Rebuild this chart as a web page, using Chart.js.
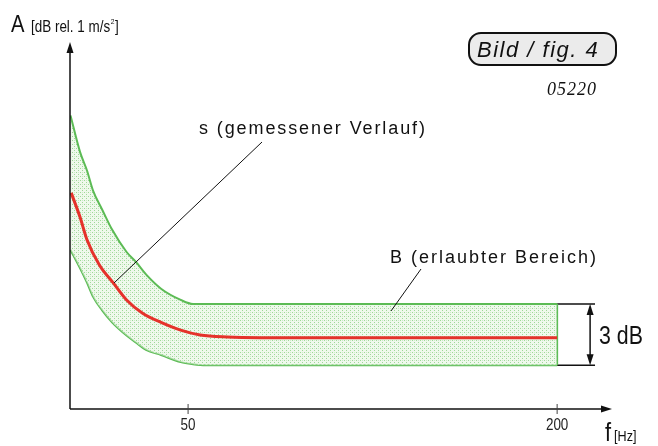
<!DOCTYPE html>
<html>
<head>
<meta charset="utf-8">
<script src="https://cdn.jsdelivr.net/npm/chart.js@4.4.1/dist/chart.umd.min.js"></script>
<style>
  html, body { margin: 0; padding: 0; background: #fff; }
  #wrap { width: 658px; height: 446px; }
</style>
</head>
<body>
<div id="wrap"><canvas id="bandChart" width="658" height="446"></canvas></div>
<script>
// frequency points (Hz) for the allowed band edges
const bandFreq = [2.2, 6.1, 8.9, 11.4, 15, 19.1, 25, 28.9, 32.9, 39, 47, 52, 57, 61, 67, 200];
const bandUpper = [14.4, 12.6, 11.7, 10.7, 9.8, 8.8, 7.7, 7.2, 6.6, 5.9, 5.35, 5.15, 5.15, 5.15, 5.15, 5.15];
const bandLower = [7.8, 6.9, 6.2, 5.5, 4.85, 4.25, 3.6, 3.25, 2.9, 2.65, 2.3, 2.2, 2.15, 2.15, 2.15, 2.15];
// measured curve s
const measFreq = [2.5, 6.1, 8.9, 14, 19.5, 25, 31.5, 39, 47, 54.9, 65.9, 79.3, 200];
const measured = [10.6, 9.4, 8.3, 7.05, 6.2, 5.35, 4.7, 4.25, 3.87, 3.63, 3.53, 3.5, 3.5];
const xTicks = [50, 200];
const dimEnd = 215.4;     // end of 3 dB bracket lines
const dimArrowX = 213.4;

const GREEN = "#5cbb55";
const RED = "#e5322b";

// dotted light green fill
function makePattern() {
  const c = document.createElement("canvas");
  c.width = 4; c.height = 4;
  const g = c.getContext("2d");
  g.fillStyle = "rgba(225,244,221,0.55)";
  g.fillRect(0, 0, 4, 4);
  g.fillStyle = "#9fd898";
  g.fillRect(0, 0, 1, 1);
  g.fillRect(2, 2, 1, 1);
  g.fillStyle = "#cdebc8";
  g.fillRect(2, 0, 1, 1);
  return g.createPattern(c, "repeat");
}

const pts = (xs, ys) => xs.map((v, i) => ({ x: v, y: ys[i] }));
const lastUp = bandUpper[bandUpper.length - 1];
const lastLo = bandLower[bandLower.length - 1];
const bandEnd = bandFreq[bandFreq.length - 1];

// draws condensed text, returns end x
function narrow(ctx, text, px, py, size, align, sx) {
  sx = sx || 0.84;
  ctx.save();
  ctx.font = size + 'px "Liberation Sans", Arial, sans-serif';
  const w = ctx.measureText(text).width * sx;
  ctx.translate(px, py);
  ctx.scale(sx, 1);
  ctx.textAlign = align || "left";
  ctx.textBaseline = "alphabetic";
  ctx.fillText(text, 0, 0);
  ctx.restore();
  return px + w;
}

function line(ctx, x1, y1, x2, y2, w) {
  ctx.beginPath();
  ctx.lineWidth = w || 1;
  ctx.moveTo(x1, y1);
  ctx.lineTo(x2, y2);
  ctx.stroke();
}

function tri(ctx, a, b, c) {
  ctx.beginPath();
  ctx.moveTo(a[0], a[1]);
  ctx.lineTo(b[0], b[1]);
  ctx.lineTo(c[0], c[1]);
  ctx.closePath();
  ctx.fill();
}

const decor = {
  id: "decor",
  afterDraw(chart) {
    const { ctx, chartArea: ca, scales: { x, y } } = chart;
    ctx.save();
    ctx.strokeStyle = "#111";
    ctx.fillStyle = "#111";
    const x0 = ca.left;
    const y0 = y.getPixelForValue(0);

    // axes with arrows
    line(ctx, x0, y0, x0, ca.top + 8, 1.5);
    tri(ctx, [x0, ca.top], [x0 - 3.5, ca.top + 11], [x0 + 3.5, ca.top + 11]);
    line(ctx, x0, y0, ca.right - 8, y0, 1.5);
    tri(ctx, [ca.right, y0], [ca.right - 11, y0 - 3.5], [ca.right - 11, y0 + 3.5]);

    // ticks + labels
    ctx.fillStyle = "#222";
    xTicks.forEach(t => {
      const px = x.getPixelForValue(t);
      ctx.strokeStyle = "#444";
      line(ctx, px, y0 - 5, px, y0 + 5, 1);
      narrow(ctx, String(t), px, y0 + 21, 16, "center");
    });

    // axis titles
    ctx.fillStyle = "#111";
    narrow(ctx, "A", 11, 32, 24, "left");
    let ex = narrow(ctx, "[dB rel. 1 m/s", 31, 32, 16, "left");
    ex = narrow(ctx, "2", ex + 0.5, 24, 8, "left");
    narrow(ctx, "]", ex + 0.5, 32, 16, "left");
    ex = narrow(ctx, "f", 605, 441, 26, "left");
    narrow(ctx, "[Hz]", ex + 3, 441, 15, "left");

    // figure label box
    ctx.beginPath();
    ctx.lineWidth = 2;
    ctx.strokeStyle = "#111";
    ctx.fillStyle = "#ebebeb";
    ctx.roundRect(469, 33, 147, 32, 12);
    ctx.fill();
    ctx.stroke();
    ctx.fillStyle = "#111";
    ctx.font = 'italic 22px "Liberation Sans", Arial, sans-serif';
    ctx.letterSpacing = "1.5px";
    ctx.textAlign = "left";
    ctx.fillText("Bild / fig. 4", 477, 57);
    ctx.font = 'italic 18px "Liberation Serif", "Times New Roman", serif';
    ctx.letterSpacing = "1px";
    ctx.fillText("05220", 547, 95);

    // callout texts
    ctx.font = '18px "Liberation Sans", Arial, sans-serif';
    ctx.letterSpacing = "1.9px";
    ctx.fillText("s (gemessener Verlauf)", 199, 134);
    ctx.letterSpacing = "2px";
    ctx.fillText("B (erlaubter Bereich)", 390, 263);
    ctx.letterSpacing = "0px";
    ctx.strokeStyle = "#111";
    line(ctx, 262, 142, 114, 283, 1);
    line(ctx, 421, 269, 391, 311, 1);

    // 3 dB dimension arrow
    const ax = x.getPixelForValue(dimArrowX);
    const yt = y.getPixelForValue(lastUp);
    const yb = y.getPixelForValue(lastLo);
    line(ctx, ax, yt + 8, ax, yb - 8, 1.5);
    tri(ctx, [ax, yt], [ax - 3.5, yt + 11], [ax + 3.5, yt + 11]);
    tri(ctx, [ax, yb], [ax - 3.5, yb - 11], [ax + 3.5, yb - 11]);
    narrow(ctx, "3 dB", 599, (yt + yb) / 2 + 9, 26, "left", 0.82);
    ctx.restore();
  }
};

const pattern = makePattern();

new Chart(document.getElementById("bandChart"), {
  type: "line",
  data: {
    datasets: [
      {
        label: "s",
        data: pts(measFreq, measured),
        borderColor: RED,
        borderWidth: 3,
        fill: false,
        cubicInterpolationMode: "monotone",
        pointRadius: 0
      },
      {
        label: "B upper",
        data: pts(bandFreq, bandUpper),
        borderColor: GREEN,
        borderWidth: 2,
        backgroundColor: pattern,
        fill: "+1",
        cubicInterpolationMode: "monotone",
        pointRadius: 0
      },
      {
        label: "B lower",
        data: pts(bandFreq, bandLower),
        borderColor: GREEN,
        borderWidth: 2,
        fill: false,
        cubicInterpolationMode: "monotone",
        pointRadius: 0
      },
      {
        label: "B edge",
        data: [{ x: bandEnd, y: lastLo }, { x: bandEnd, y: lastUp }],
        borderColor: GREEN,
        borderWidth: 2,
        fill: false,
        pointRadius: 0
      },
      {
        label: "dim top",
        data: [{ x: bandEnd, y: lastUp }, { x: dimEnd, y: lastUp }],
        borderColor: "#111",
        borderWidth: 1.5,
        fill: false,
        pointRadius: 0
      },
      {
        label: "dim bottom",
        data: [{ x: bandEnd, y: lastLo }, { x: dimEnd, y: lastLo }],
        borderColor: "#111",
        borderWidth: 1.5,
        fill: false,
        pointRadius: 0
      }
    ]
  },
  options: {
    responsive: false,
    animation: false,
    layout: { padding: { left: 70, right: 46, top: 42, bottom: 37 } },
    plugins: {
      legend: { display: false },
      tooltip: { enabled: false }
    },
    scales: {
      x: { type: "linear", min: 2, max: 222.3, display: false },
      y: { type: "linear", min: 0, max: 18, display: false }
    }
  },
  plugins: [decor]
});
</script>
</body>
</html>
